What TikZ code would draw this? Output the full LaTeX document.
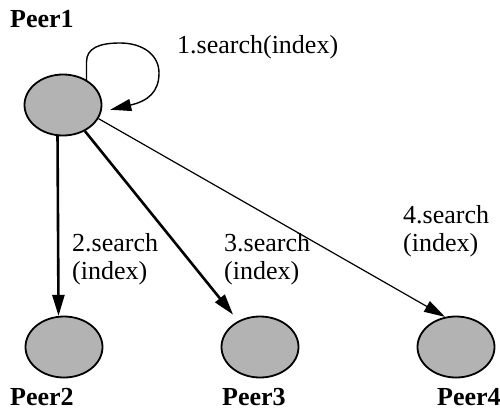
\documentclass[tikz,border=0pt]{standalone}
\usepackage{fontspec}
\setmainfont{Liberation Serif}
\usetikzlibrary{shapes,arrows,arrows.meta,positioning}
\definecolor{peergray}{RGB}{179,179,179}

\begin{document}
\begin{tikzpicture}[x=1pt,y=-1pt,
  peer/.style={ellipse,draw,line width=1.8pt,fill=peergray,minimum width=77pt,minimum height=61pt,inner sep=0pt},
  peername/.style={font=\fontsize{26}{28}\selectfont\bfseries,inner sep=0pt,anchor=base west},
  msg/.style={font=\fontsize{26}{28}\selectfont,align=left,inner sep=0pt,anchor=west},
  call/.style={-{Triangle[length=21pt,width=12pt]},line width=2.6pt},
  thincall/.style={-{Triangle[length=21pt,width=12pt]},line width=1.2pt}]
\useasboundingbox (0,0) rectangle (500,412);

% Peers
\node[peer] (Peer1) at (63,105) {};
\node[peer] (Peer2) at (64,347) {};
\node[peer] (Peer3) at (260,347) {};
\node[peer] (Peer4) at (456,347) {};

% Peer names
\node[peername] (name1) at (10,28) {Peer1};
\node[peername] (name2) at (10,405) {Peer2};
\node[peername] (name3) at (222,405) {Peer3};
\node[peername] (name4) at (437,405) {Peer4};

% Local search
\draw[line width=1.4pt,-{Triangle[length=21pt,width=12pt]},shorten >=9pt]
  (Peer1.47) -- ++(0,-18) .. controls +(0,-14) and (100,43) .. (120,43)
  .. controls (143,43) and (159,55) .. (159,73)
  .. controls (159,92) and (148,101) .. (Peer1.-10);
\node[msg] (m1) at (177,47) {1.search(index)};

% Forwarded searches
\draw[call] (Peer1.260) -- (Peer2.100);
\draw[call,shorten >=8pt] (Peer1.-50) -- (Peer3.130);
\draw[thincall] (Peer1.-21) -- (Peer4.110);
\node[msg] (m2) at (72,259) {2.search\\(index)};
\node[msg] (m3) at (224,259) {3.search\\(index)};
\node[msg] (m4) at (403,231) {4.search\\(index)};
\end{tikzpicture}
\end{document}
